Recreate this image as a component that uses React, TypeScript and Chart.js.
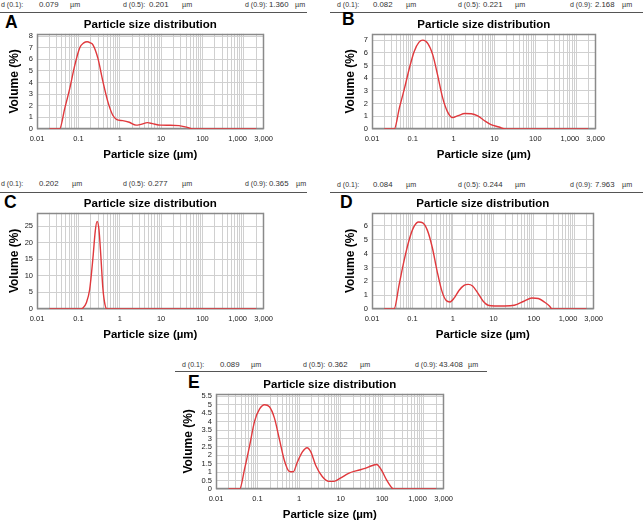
import React, { useEffect, useRef } from 'react';
import { Chart, registerables } from 'chart.js';

Chart.register(...registerables);

const FONT = '"Liberation Sans", Arial, Helvetica, sans-serif';
const RED = '#e0383c';
const GRID = '#d0d0d0';
const FRAME = '#8a8a8a';

// ---- axis ticks ----
const xTickValues = [0.01, 0.1, 1, 10, 100, 1000, 3000];
const xTickLabels = ['0.01', '0.1', '1', '10', '100', '1,000      ', '3,000'];
const gridDecades = [0.01, 0.1, 1, 10, 100, 1000];
const gridMultipliers = [1, 2, 3, 4, 5, 6, 7, 8, 9];

const yMaxes = [8.2, 7.5, 29, 6.95, 5.65];
const ySteps = [1, 1, 5, 1, 0.5];

// ---- header values ----
const percentileLabels = ['d (0.1):', 'd (0.5):', 'd (0.9):'];
const unitLabel = 'µm';
const percentilesA = ['0.079', '0.201', '1.360'];
const percentilesB = ['0.082', '0.221', '2.168'];
const percentilesC = ['0.202', '0.277', '0.365'];
const percentilesD = ['0.084', '0.244', '7.963'];
const percentilesE = ['0.089', '0.362', '43.408'];

const panelLetters = ['A', 'B', 'C', 'D', 'E'];

// ---- series (particle size in µm, volume in %) ----
const sizesA = [0.02, 0.035, 0.047, 0.062, 0.082, 0.108, 0.135, 0.163, 0.195, 0.225, 0.296, 0.391, 0.515, 0.68, 0.847, 1.18, 1.7, 2.47, 3.25, 4.7, 6.2, 9.8, 15.6, 27, 43, 62, 2000];
const volumeA = [0, 0, 1.8, 3.5, 5.5, 7.0, 7.42, 7.52, 7.42, 7.25, 6.1, 4.1, 2.36, 1.18, 0.81, 0.72, 0.58, 0.33, 0.4, 0.55, 0.46, 0.33, 0.32, 0.29, 0.14, 0, 0];

const sizesB = [0.02, 0.035, 0.047, 0.062, 0.082, 0.108, 0.142, 0.175, 0.234, 0.308, 0.405, 0.534, 0.704, 0.94, 1.29, 1.88, 2.7, 3.9, 5.6, 8.2, 12.9, 18.6, 2000];
const volumeB = [0, 0, 1.69, 3.16, 4.77, 6.11, 6.84, 7.0, 6.73, 5.84, 4.24, 2.49, 1.37, 0.9, 1.05, 1.22, 1.2, 1.03, 0.67, 0.35, 0.16, 0, 0];

const sizesC = [0.02, 0.105, 0.129, 0.155, 0.187, 0.225, 0.256, 0.283, 0.314, 0.35, 0.39, 0.44, 0.49, 2000];
const volumeC = [0, 0, 0.3, 1.8, 5.8, 15.4, 23.5, 26.4, 24, 15.8, 6.4, 1.3, 0, 0];

const sizesD = [0.02, 0.035, 0.047, 0.062, 0.082, 0.108, 0.142, 0.18, 0.234, 0.308, 0.405, 0.534, 0.682, 0.847, 1.08, 1.41, 1.88, 2.38, 3.06, 4.1, 5.6, 7.4, 10.8, 18.9, 32.9, 57, 89.4, 129, 186, 246, 280, 2000];
const volumeD = [0, 0, 1.78, 3.49, 4.95, 5.93, 6.29, 6.22, 5.68, 4.46, 2.76, 1.29, 0.61, 0.51, 0.8, 1.34, 1.71, 1.78, 1.66, 1.17, 0.56, 0.27, 0.22, 0.22, 0.27, 0.56, 0.8, 0.76, 0.49, 0.2, 0, 0];

const sizesE = [0.02, 0.037, 0.049, 0.0645, 0.085, 0.112, 0.147, 0.193, 0.254, 0.334, 0.44, 0.578, 0.72, 0.912, 1.2, 1.55, 1.9, 2.5, 3.6, 5.2, 6.8, 9.8, 15.5, 24.5, 38.6, 55.7, 73.3, 96, 127, 160, 183, 2000];
const volumeE = [0, 0, 1.22, 2.58, 4.03, 4.75, 5.0, 4.88, 4.22, 2.97, 1.71, 1.05, 1.02, 1.61, 2.2, 2.45, 2.22, 1.41, 0.74, 0.45, 0.45, 0.64, 0.93, 1.09, 1.22, 1.38, 1.45, 1.12, 0.54, 0.16, 0, 0];

const allSizes = [sizesA, sizesB, sizesC, sizesD, sizesE];
const allVolumes = [volumeA, volumeB, volumeC, volumeD, volumeE];
const allPercentiles = [percentilesA, percentilesB, percentilesC, percentilesD, percentilesE];

// ---- layout (positions only) ----
type Layout = {
  left: number; top: number; w: number; h: number; yAxisW: number; xAxisH: number;
  headerTop: number; headerX: number[]; ruleY: number; ruleX1: number; ruleX2: number;
  letterX: number; letterTop: number;
};

const layouts: Layout[] = [
  { left: 4, top: 14, w: 274, h: 148, yAxisW: 33, xAxisH: 33, headerTop: 0.5, headerX: [1, 39, 70, 123, 149, 182, 245, 269, 295], ruleY: 11.5, ruleX1: 0, ruleX2: 307, letterX: 5, letterTop: 14 },
  { left: 340, top: 14, w: 270, h: 148, yAxisW: 32, xAxisH: 33, headerTop: 0.5, headerX: [337, 373, 406, 458, 483, 515, 570, 595, 622], ruleY: 11.5, ruleX1: 330, ruleX2: 643, letterX: 342, letterTop: 10.5 },
  { left: 4, top: 193, w: 274, h: 149, yAxisW: 33, xAxisH: 33, headerTop: 180.3, headerX: [1, 39, 72, 123, 148, 182, 245, 269, 296], ruleY: 191.5, ruleX1: 0, ruleX2: 307, letterX: 4, letterTop: 194 },
  { left: 340, top: 193, w: 268, h: 149, yAxisW: 32, xAxisH: 33, headerTop: 180.8, headerX: [337, 373, 406, 458, 483, 515, 570, 595, 622], ruleY: 191.5, ruleX1: 330, ruleX2: 643, letterX: 340, letterTop: 194 },
  { left: 178, top: 374, w: 280, h: 148, yAxisW: 38, xAxisH: 33, headerTop: 360.8, headerX: [182, 220, 251, 303, 328, 360, 415, 439, 468], ruleY: 370.5, ruleX1: 175, ruleX2: 487, letterX: 188, letterTop: 374 },
];

const gridTicks: number[] = [];
gridDecades.forEach((d) => gridMultipliers.forEach((m) => {
  const v = +(d * m).toPrecision(6);
  if (v <= 3000) gridTicks.push(v);
}));

function xLabel(v: number): string {
  for (let i = 0; i < xTickValues.length; i++) {
    if (Math.abs(v - xTickValues[i]) / xTickValues[i] < 1e-6) return xTickLabels[i];
  }
  return '';
}

const framePlugin = {
  id: 'frame',
  beforeDatasetsDraw(chart: any) {
    const { ctx, chartArea } = chart;
    const l = Math.round(chartArea.left) + 0.5;
    const t = Math.round(chartArea.top) + 0.5;
    const r = Math.round(chartArea.right) - 0.5;
    const b = Math.round(chartArea.bottom) - 0.5;
    ctx.save();
    ctx.strokeStyle = FRAME;
    ctx.lineWidth = 1.5;
    ctx.strokeRect(l, t, r - l, b - t);
    ctx.restore();
  },
};

function PanelChart({ idx }: { idx: number }) {
  const ref = useRef<HTMLCanvasElement>(null);
  const lay = layouts[idx];
  useEffect(() => {
    if (!ref.current) return;
    const sizes = allSizes[idx];
    const vols = allVolumes[idx];
    const chart = new Chart(ref.current, {
      type: 'line',
      data: {
        datasets: [
          {
            data: sizes.map((x, i) => ({ x, y: vols[i] })),
            borderColor: RED,
            borderWidth: 1.4,
            pointRadius: 0,
            fill: false,
            cubicInterpolationMode: 'monotone',
          },
        ],
      },
      options: {
        animation: false,
        responsive: false,
        maintainAspectRatio: false,
        events: [],
        layout: { padding: { left: 0, right: 12, top: 0, bottom: 0 } },
        plugins: {
          legend: { display: false },
          tooltip: { enabled: false },
          title: {
            display: true,
            text: 'Particle size distribution',
            fullSize: false,
            color: '#000',
            font: { family: FONT, size: 11.5, weight: 'bold' },
            padding: { top: 4, bottom: 2 },
          },
        },
        scales: {
          x: {
            type: 'logarithmic',
            min: 0.01,
            max: 3000,
            afterBuildTicks: (s: any) => {
              s.ticks = gridTicks.map((v) => ({ value: v, major: false }));
            },
            afterFit: (s: any) => {
              s.height = lay.xAxisH;
            },
            ticks: {
              autoSkip: false,
              maxRotation: 0,
              minRotation: 0,
              padding: 5,
              color: '#222',
              font: { family: FONT, size: 7.5 },
              callback: (v: any) => xLabel(Number(v)),
            },
            grid: { color: GRID, lineWidth: 1, drawTicks: false },
            border: { display: false },
            title: {
              display: true,
              text: 'Particle size (µm)',
              color: '#000',
              font: { family: FONT, size: 11.5, weight: 'bold' },
              padding: { top: 0, bottom: 0 },
            },
          },
          y: {
            type: 'linear',
            min: 0,
            max: yMaxes[idx],
            afterFit: (s: any) => {
              s.width = lay.yAxisW;
            },
            ticks: {
              stepSize: ySteps[idx],
              includeBounds: false,
              autoSkip: false,
              padding: 4,
              color: '#222',
              font: { family: FONT, size: 7.5 },
              callback: (v: any) => String(v),
            },
            grid: { color: GRID, lineWidth: 1, drawTicks: false },
            border: { display: false },
            title: {
              display: true,
              text: 'Volume (%)',
              color: '#000',
              font: { family: FONT, size: 12, weight: 'bold' },
              padding: { top: 3, bottom: 0 },
            },
          },
        },
      } as any,
      plugins: [framePlugin],
    });
    return () => chart.destroy();
  }, [idx]);
  return (
    <canvas
      ref={ref}
      width={lay.w}
      height={lay.h}
      style={{ position: 'absolute', left: lay.left, top: lay.top, width: lay.w, height: lay.h }}
    />
  );
}

function Header({ idx }: { idx: number }) {
  const lay = layouts[idx];
  const vals = allPercentiles[idx];
  const items: { t: string; size: number }[] = [];
  for (let i = 0; i < 3; i++) {
    items.push({ t: percentileLabels[i], size: 7 }, { t: vals[i], size: 7.8 }, { t: unitLabel, size: 7.2 });
  }
  return (
    <>
      {items.map((it, i) => (
        <span
          key={i}
          style={{
            position: 'absolute',
            left: lay.headerX[i],
            top: lay.headerTop,
            fontSize: it.size,
            lineHeight: '8px',
            color: '#333',
            whiteSpace: 'nowrap',
          }}
        >
          {it.t}
        </span>
      ))}
      <div
        style={{
          position: 'absolute',
          left: lay.ruleX1,
          top: lay.ruleY,
          width: lay.ruleX2 - lay.ruleX1,
          height: 1.5,
          background: '#555',
        }}
      />
      <span
        style={{
          position: 'absolute',
          left: lay.letterX,
          top: lay.letterTop,
          fontSize: 17.5,
          lineHeight: '17px',
          fontWeight: 900,
          color: '#000',
        }}
      >
        {panelLetters[idx]}
      </span>
    </>
  );
}

export default function App() {
  return (
    <div
      style={{
        position: 'absolute',
        left: 0,
        top: 0,
        width: 643,
        height: 522,
        overflow: 'hidden',
        background: '#fff',
        fontFamily: FONT,
      }}
    >
      {layouts.map((_, i) => (
        <React.Fragment key={i}>
          <Header idx={i} />
          <PanelChart idx={i} />
        </React.Fragment>
      ))}
    </div>
  );
}
